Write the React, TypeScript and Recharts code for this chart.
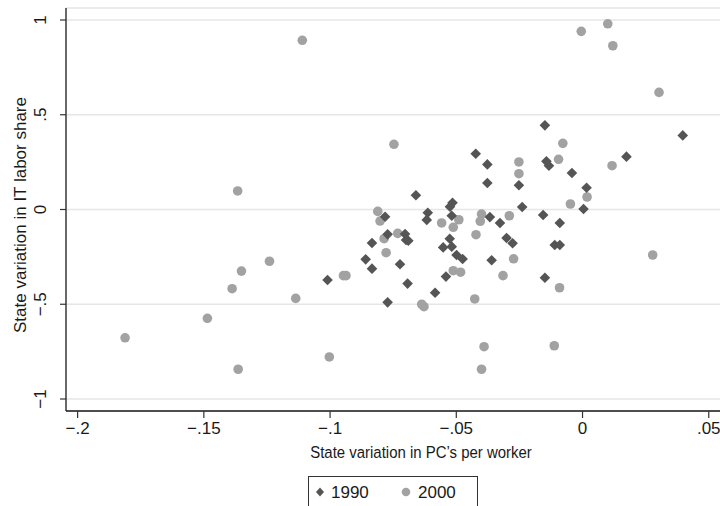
import React from 'react';
import { ScatterChart, Scatter, XAxis, YAxis, CartesianGrid, Legend } from 'recharts';

// Tick positions and their printed labels
const xTicks = [-0.2, -0.15, -0.1, -0.05, 0, 0.05];
const xTickLabels = ['\u2212.2', '\u2212.15', '\u2212.1', '\u2212.05', '0', '.05'];
const yTicks = [-1, -0.5, 0, 0.5, 1];
const yTickLabels = ['\u22121', '\u2212.5', '0', '.5', '1'];

// 1990: state variation in PCs per worker (x) vs IT labor share (y)
const pc1990 = [
  -0.0149, 0.0397, -0.0423, 0.0174, -0.0377, -0.0143, -0.0133, -0.0042, -0.0377, -0.0252,
  0.0016, -0.066, -0.0239, 0.0004, -0.0367, -0.0327, -0.0156, -0.009, -0.0301, -0.0277,
  -0.011, -0.009, -0.036, -0.0149, -0.0515, -0.0525, -0.0518, -0.0526, -0.0552, -0.0518,
  -0.0499, -0.0475, -0.0541, -0.0782, -0.0613, -0.0617, -0.0772, -0.0703, -0.0699, -0.069,
  -0.0834, -0.0859, -0.0834, -0.0723, -0.101, -0.0693, -0.0584, -0.0772,
];
const it1990 = [
  0.444, 0.391, 0.294, 0.279, 0.238, 0.254, 0.231, 0.193, 0.14, 0.128,
  0.115, 0.075, 0.013, 0.003, -0.04, -0.071, -0.029, -0.071, -0.15, -0.178,
  -0.187, -0.187, -0.268, -0.36, 0.036, 0.015, -0.033, -0.154, -0.2, -0.196,
  -0.24, -0.261, -0.354, -0.038, -0.017, -0.055, -0.131, -0.129, -0.161, -0.165,
  -0.177, -0.263, -0.312, -0.289, -0.372, -0.391, -0.439, -0.49,
];

// 2000: same measures a decade later
const pc2000 = [
  -0.111, -0.0747, -0.0005, 0.01, 0.012, 0.0303, -0.0078, -0.0095, -0.0252, 0.0117,
  -0.0252, 0.0018, -0.0048, -0.029, 0.0278, -0.0273, -0.0315, -0.0091, -0.039, -0.0112,
  -0.04, -0.049, -0.0558, -0.0512, -0.04, -0.0405, -0.0422, -0.0512, -0.0483, -0.0427,
  -0.0811, -0.0802, -0.0732, -0.0786, -0.0778, -0.0947, -0.0937, -0.0637, -0.0628, -0.124,
  -0.1136, -0.1003, -0.1351, -0.1388, -0.1486, -0.1812, -0.1364, -0.1366,
];
const it2000 = [
  0.893, 0.344, 0.94, 0.98, 0.864, 0.618, 0.349, 0.265, 0.251, 0.231,
  0.189, 0.066, 0.029, -0.033, -0.24, -0.26, -0.349, -0.413, -0.724, -0.719,
  -0.843, -0.054, -0.071, -0.094, -0.024, -0.062, -0.133, -0.323, -0.331, -0.472,
  -0.01, -0.061, -0.126, -0.154, -0.228, -0.349, -0.349, -0.5, -0.513, -0.273,
  -0.469, -0.778, -0.325, -0.418, -0.574, -0.677, -0.843, 0.098,
];

const seriesNames = ['1990', '2000'];
const xTitle = 'State variation in PC\u2019s per worker';
const yTitle = 'State variation in IT labor share';

const data1990 = pc1990.map((x, i) => ({ x, y: it1990[i] }));
const data2000 = pc2000.map((x, i) => ({ x, y: it2000[i] }));

const FONT = '"Liberation Sans Narrow", "Liberation Sans", Arial, sans-serif';
const DIAMOND = '#555555';
const DOT = '#a2a2a2';
const INK = '#1a1a1a';

const Diamond = (props: any) => {
  const { cx, cy } = props;
  const r = 5.3;
  return (
    <polygon
      points={`${cx},${cy - r} ${cx + r},${cy} ${cx},${cy + r} ${cx - r},${cy}`}
      fill={DIAMOND}
    />
  );
};

const Dot = (props: any) => {
  const { cx, cy } = props;
  return <circle cx={cx} cy={cy} r={4.8} fill={DOT} />;
};

const XTick = (props: any) => {
  const { x, y, payload } = props;
  const idx = xTicks.indexOf(payload.value);
  return (
    <text x={x} y={y + 14} textAnchor="middle" fontSize={17} fontFamily={FONT} fill={INK}>
      {idx >= 0 ? xTickLabels[idx] : ''}
    </text>
  );
};

const YTick = (props: any) => {
  const { y, payload } = props;
  const idx = yTicks.indexOf(payload.value);
  const cx = 40;
  return (
    <text
      x={cx}
      y={y}
      dy="0.35em"
      textAnchor="middle"
      transform={`rotate(-90 ${cx} ${y})`}
      fontSize={17}
      fontFamily={FONT}
      fill={INK}
    >
      {idx >= 0 ? yTickLabels[idx] : ''}
    </text>
  );
};

// Horizontal axis title is set in a slightly condensed face
const XTitle = (props: any) => {
  const { viewBox } = props;
  const cx = 421;
  const cy = viewBox.y + 47;
  return (
    <text
      x={cx}
      y={cy}
      textAnchor="middle"
      transform={`translate(${cx} 0) scale(0.88 1) translate(${-cx} 0)`}
      fontSize={17}
      fontFamily={FONT}
      fill={INK}
    >
      {xTitle}
    </text>
  );
};

const YTitle = () => {
  const cx = 20;
  const cy = 215;
  return (
    <text
      x={cx}
      y={cy}
      dy="0.35em"
      textAnchor="middle"
      transform={`rotate(-90 ${cx} ${cy})`}
      fontSize={17}
      fontFamily={FONT}
      fill={INK}
    >
      {yTitle}
    </text>
  );
};

const LegendBox = () => (
  <div
    style={{
      boxSizing: 'border-box',
      width: 170,
      height: 44,
      border: '1px solid #333',
      background: '#fff',
      fontFamily: FONT,
      fontSize: 17,
      color: INK,
      position: 'relative',
    }}
  >
    <svg width={170} height={44} style={{ position: 'absolute', left: -1, top: -1 }}>
      <polygon points="12,11.5 16,16 12,20.5 8,16" fill={DIAMOND} />
      <text x={23} y={22} fontSize={17} fontFamily={FONT} fill={INK}>
        {seriesNames[0]}
      </text>
      <circle cx={98} cy={16} r={4.3} fill={DOT} />
      <text x={110} y={22} fontSize={17} fontFamily={FONT} fill={INK}>
        {seriesNames[1]}
      </text>
    </svg>
  </div>
);

export default function App() {
  return (
    <div
      style={{
        position: 'absolute',
        left: 0,
        top: 0,
        width: 720,
        height: 506,
        overflow: 'hidden',
        background: '#fff',
      }}
    >
      <ScatterChart
        width={760}
        height={506}
        margin={{ top: 8, right: 26, bottom: 0, left: 0 }}
      >
        <CartesianGrid vertical={false} stroke="#e6e6e6" strokeWidth={1.5} />
        <XAxis
          type="number"
          dataKey="x"
          domain={[-0.2046, 0.06]}
          ticks={xTicks}
          allowDataOverflow
          height={95}
          tickSize={7}
          tickLine={{ stroke: '#333', strokeWidth: 1.2 }}
          axisLine={{ stroke: INK, strokeWidth: 1.3 }}
          tick={<XTick />}
          label={<XTitle />}
        />
        <YAxis
          type="number"
          dataKey="y"
          domain={[-1.0633, 1.0633]}
          ticks={yTicks}
          allowDataOverflow
          width={66}
          tickSize={6}
          tickLine={{ stroke: '#333', strokeWidth: 1.2 }}
          axisLine={{ stroke: INK, strokeWidth: 1.3 }}
          tick={<YTick />}
          label={<YTitle />}
        />
        <Legend
          layout="horizontal"
          verticalAlign="middle"
          align="center"
          wrapperStyle={{ left: 308, top: 476, width: 170, height: 44 }}
          content={<LegendBox />}
        />
        <Scatter name={seriesNames[1]} data={data2000} shape={<Dot />} isAnimationActive={false} />
        <Scatter name={seriesNames[0]} data={data1990} shape={<Diamond />} isAnimationActive={false} />
      </ScatterChart>
    </div>
  );
}
